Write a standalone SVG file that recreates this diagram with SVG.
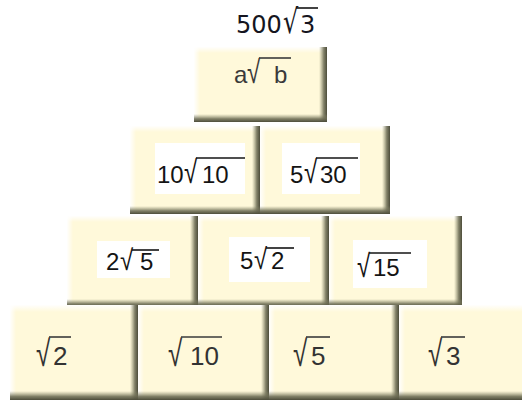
<svg xmlns="http://www.w3.org/2000/svg" width="522" height="403" viewBox="0 0 522 403">
<style>
.base{fill:#FFF9DA}
.hlT{fill:url(#gT)}
.hlL{fill:url(#gL)}
.shR{fill:url(#gR)}
.shB{fill:url(#gB)}
.wb{fill:#FFFFFF}
.t{font-family:"Liberation Sans",Arial,sans-serif;font-size:24px;fill:#141414}
.g{font-family:"Liberation Sans",Arial,sans-serif;font-size:24px;fill:#3a3a3a}
.g4{font-family:"Liberation Sans",Arial,sans-serif;font-size:26px;fill:#333333}
.ti{font-family:"DejaVu Sans",sans-serif;font-size:24px;fill:#151520}
.v{stroke:#141414;stroke-width:1.6;fill:none}
.vg{stroke:#3a3a3a;stroke-width:1.6;fill:none}
</style>
<defs>
<linearGradient id="gT" x1="0" y1="0" x2="0" y2="1"><stop offset="0" stop-color="#FFFFFF" stop-opacity="0.95"/><stop offset="1" stop-color="#FFFFFF" stop-opacity="0"/></linearGradient>
<linearGradient id="gL" x1="0" y1="0" x2="1" y2="0"><stop offset="0" stop-color="#FFFFFF" stop-opacity="0.95"/><stop offset="1" stop-color="#FFFFFF" stop-opacity="0"/></linearGradient>
<linearGradient id="gR" x1="0" y1="0" x2="1" y2="0"><stop offset="0" stop-color="#8a8a6c" stop-opacity="0"/><stop offset="0.6" stop-color="#6a6a52" stop-opacity="0.85"/><stop offset="1" stop-color="#4c4c3a" stop-opacity="1"/></linearGradient>
<linearGradient id="gB" x1="0" y1="0" x2="0" y2="1"><stop offset="0" stop-color="#8a8a6c" stop-opacity="0"/><stop offset="0.6" stop-color="#6a6a52" stop-opacity="0.85"/><stop offset="1" stop-color="#4c4c3a" stop-opacity="1"/></linearGradient>
</defs>

<g id="title">
<text class="ti" x="236" y="33">500</text>
<text class="ti" transform="translate(283,33) scale(1,1.4)">√</text>
<text class="ti" x="300" y="33">3</text>
<line class="v" x1="296" y1="8" x2="318" y2="8"/>
</g>

<g id="box-top">
<rect class="base" x="194" y="47" width="133" height="75"/>
<rect class="hlT" x="194" y="47" width="133" height="6"/>
<rect class="hlL" x="194" y="47" width="6" height="75"/>
<rect class="shR" x="319" y="47" width="8" height="75"/>
<rect class="shB" x="194" y="114" width="133" height="8"/>
<text class="g" x="234" y="83">a</text>
<text class="g" transform="translate(247,83) scale(1,1.33)">√</text>
<text class="g" x="274" y="83">b</text>
<line class="vg" x1="259" y1="58" x2="291" y2="58"/>
</g>

<g id="box-r2a">
<rect class="base" x="130" y="126" width="130" height="88"/>
<rect class="hlT" x="130" y="126" width="130" height="6"/>
<rect class="hlL" x="130" y="126" width="6" height="88"/>
<rect class="shR" x="252" y="126" width="8" height="88"/>
<rect class="shB" x="130" y="206" width="130" height="8"/>
<rect class="wb" x="155" y="143" width="90" height="51"/>
<text class="t" x="157" y="183">10</text>
<text class="t" transform="translate(184,183) scale(1,1.33)">√</text>
<text class="t" x="202" y="183">10</text>
<line class="v" x1="196" y1="158" x2="245" y2="158"/>
</g>

<g id="box-r2b">
<rect class="base" x="260" y="126" width="130" height="88"/>
<rect class="hlT" x="260" y="126" width="130" height="6"/>
<rect class="hlL" x="260" y="126" width="6" height="88"/>
<rect class="shR" x="382" y="126" width="8" height="88"/>
<rect class="shB" x="260" y="206" width="130" height="8"/>
<rect class="wb" x="282" y="143" width="78" height="51"/>
<text class="t" x="290" y="183">5</text>
<text class="t" transform="translate(304,183) scale(1,1.33)">√</text>
<text class="t" x="320" y="183">30</text>
<line class="v" x1="316" y1="158" x2="358" y2="158"/>
</g>

<g id="box-r3a">
<rect class="base" x="67" y="216" width="131" height="91"/>
<rect class="hlT" x="67" y="216" width="131" height="6"/>
<rect class="hlL" x="67" y="216" width="6" height="91"/>
<rect class="shR" x="190" y="216" width="8" height="91"/>
<rect class="shB" x="67" y="299" width="131" height="8"/>
<rect class="wb" x="97" y="241" width="73" height="37"/>
<text class="t" x="106" y="270">2</text>
<text class="t" transform="translate(120,270) scale(1,1.2)">√</text>
<text class="t" x="140" y="270">5</text>
<line class="v" x1="132" y1="250" x2="159" y2="250"/>
</g>

<g id="box-r3b">
<rect class="base" x="198" y="216" width="131" height="91"/>
<rect class="hlT" x="198" y="216" width="131" height="6"/>
<rect class="hlL" x="198" y="216" width="6" height="91"/>
<rect class="shR" x="321" y="216" width="8" height="91"/>
<rect class="shB" x="198" y="299" width="131" height="8"/>
<rect class="wb" x="229" y="237" width="81" height="45"/>
<text class="t" x="240" y="269">5</text>
<text class="t" transform="translate(254,269) scale(1,1.22)">√</text>
<text class="t" x="271" y="269">2</text>
<line class="v" x1="266" y1="248" x2="294" y2="248"/>
</g>

<g id="box-r3c">
<rect class="base" x="329" y="216" width="133" height="91"/>
<rect class="hlT" x="329" y="216" width="133" height="6"/>
<rect class="hlL" x="329" y="216" width="6" height="91"/>
<rect class="shR" x="454" y="216" width="8" height="91"/>
<rect class="shB" x="329" y="299" width="133" height="8"/>
<rect class="wb" x="353" y="240" width="74" height="48"/>
<text class="t" transform="translate(357,277) scale(1,1.33)">√</text>
<text class="t" x="373" y="276">15</text>
<line class="v" x1="369" y1="253" x2="411" y2="253"/>
</g>

<g id="box-r4a">
<rect class="base" x="10" y="305" width="128" height="95"/>
<rect class="hlT" x="10" y="305" width="128" height="7"/>
<rect class="hlL" x="10" y="305" width="6" height="95"/>
<rect class="shR" x="130" y="305" width="8" height="95"/>
<rect class="shB" x="10" y="391" width="128" height="9"/>
<text class="g4" transform="translate(36,366) scale(1,1.4)">√</text>
<text class="g4" x="53" y="365">2</text>
<line class="vg" x1="49" y1="337" x2="71" y2="337"/>
</g>

<g id="box-r4b">
<rect class="base" x="138" y="305" width="131" height="95"/>
<rect class="hlT" x="138" y="305" width="131" height="7"/>
<rect class="hlL" x="138" y="305" width="6" height="95"/>
<rect class="shR" x="261" y="305" width="8" height="95"/>
<rect class="shB" x="138" y="391" width="131" height="9"/>
<text class="g4" transform="translate(168,366) scale(1,1.4)">√</text>
<text class="g4" x="190" y="365">10</text>
<line class="vg" x1="181" y1="337" x2="222" y2="337"/>
</g>

<g id="box-r4c">
<rect class="base" x="269" y="305" width="130" height="95"/>
<rect class="hlT" x="269" y="305" width="130" height="7"/>
<rect class="hlL" x="269" y="305" width="6" height="95"/>
<rect class="shR" x="391" y="305" width="8" height="95"/>
<rect class="shB" x="269" y="391" width="130" height="9"/>
<text class="g4" transform="translate(293,366) scale(1,1.4)">√</text>
<text class="g4" x="311" y="365">5</text>
<line class="vg" x1="306" y1="337" x2="330" y2="337"/>
</g>

<g id="box-r4d">
<rect class="base" x="399" y="305" width="131" height="95"/>
<rect class="hlT" x="399" y="305" width="131" height="7"/>
<rect class="hlL" x="399" y="305" width="6" height="95"/>
<rect class="shB" x="399" y="391" width="131" height="9"/>
<text class="g4" transform="translate(428,366) scale(1,1.4)">√</text>
<text class="g4" x="446" y="365">3</text>
<line class="vg" x1="441" y1="337" x2="465" y2="337"/>
</g>
</svg>
